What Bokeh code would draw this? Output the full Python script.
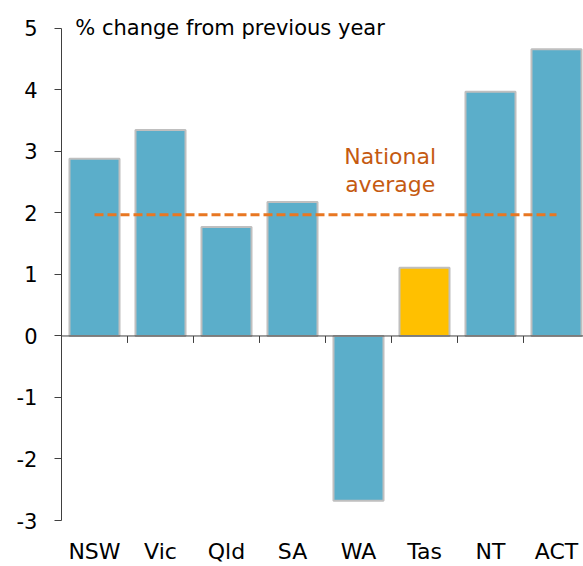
from bokeh.plotting import figure
from bokeh.models import FixedTicker, LinearAxis, Label, Range1d, Span
from bokeh.embed import file_html
from bokeh.resources import INLINE
from bokeh.core.properties import value

# ---- data ----
states = ["NSW", "Vic", "Qld", "SA", "WA", "Tas", "NT", "ACT"]
pct_change = [2.88, 3.35, 1.77, 2.18, -2.68, 1.11, 3.97, 4.66]
national_avg = 1.97
highlight = "Tas"
y_ticks = [-3, -2, -1, 0, 1, 2, 3, 4, 5]
unit_label = "% change from previous year"
avg_label = "National\naverage"

FONT = "DejaVu Sans"
BAR = "#5BAECA"
HIGHLIGHT = "#FFC000"
AXIS = "#404040"

idx = list(range(len(states)))
colors = [HIGHLIGHT if s == highlight else BAR for s in states]

W, H = 583, 566
LEFT, TOP, BOTTOM = 61, 14, 44
PX_PER_CAT = 66.0
PX_PER_UNIT = 61.75
frame_w = W - LEFT
frame_h = H - TOP - BOTTOM
x_end = -0.5 + frame_w / PX_PER_CAT
y_end = y_ticks[0] + frame_h / PX_PER_UNIT

p = figure(width=W, height=H, output_backend="svg", toolbar_location=None,
           x_range=Range1d(-0.5, x_end), y_range=Range1d(y_ticks[0], y_end),
           min_border_left=LEFT, min_border_right=0, min_border_top=TOP,
           min_border_bottom=BOTTOM, x_axis_location=None, y_axis_location=None)
p.outline_line_color = None
p.xgrid.visible = False
p.ygrid.visible = False
p.background_fill_color = "white"
p.border_fill_color = "white"

p.vbar(x=idx, top=pct_change, bottom=0, width=0.758, fill_color=colors,
       line_color="#BFBFBF", line_width=2)

p.line(x=[idx[0], idx[-1]], y=[national_avg, national_avg], line_color="#E87722",
       line_width=3, line_dash="9 4")

# zero line and boundary ticks
p.add_layout(Span(location=0, dimension="width", line_color=AXIS, line_width=1))
tick_len = 7 / PX_PER_UNIT
bounds_x = [i + 0.5 for i in idx[:-1]]
p.segment(x0=bounds_x, y0=[0] * len(bounds_x), x1=bounds_x, y1=[-tick_len] * len(bounds_x),
          line_color=AXIS, line_width=1)

# y axis
yax = LinearAxis(ticker=FixedTicker(ticks=y_ticks, minor_ticks=[]))
yax.bounds = (y_ticks[0], y_ticks[-1])
yax.major_label_overrides = {t: str(t) for t in y_ticks}
yax.axis_line_color = AXIS
yax.major_tick_line_color = AXIS
yax.major_tick_out = 7
yax.major_tick_in = 0
yax.minor_tick_line_color = None
yax.major_label_standoff = 17
yax.major_label_text_font = FONT
yax.major_label_text_font_size = "21px"
yax.major_label_text_color = "#000000"
p.add_layout(yax, "left")

# category labels at bottom
xax = LinearAxis(ticker=FixedTicker(ticks=idx, minor_ticks=[]))
xax.major_label_overrides = {i: s for i, s in zip(idx, states)}
xax.axis_line_color = None
xax.major_tick_line_color = None
xax.minor_tick_line_color = None
xax.major_tick_out = 0
xax.major_tick_in = 0
xax.major_label_standoff = 18
xax.major_label_text_font = FONT
xax.major_label_text_font_size = "22px"
xax.major_label_text_color = "#000000"
p.add_layout(xax, "below")

p.add_layout(Label(x=-0.29, y=y_ticks[-1], text=unit_label, text_font=FONT,
                   text_font_size="21px", text_color="#000000",
                   text_baseline="middle", text_align="left"))

p.text(x=[4.48], y=[2.69], text=[avg_label], text_font=value(FONT),
       text_font_size="22px", text_color="#C55A11", text_align="center",
       text_baseline="middle", text_line_height=1.15)

open("out.html", "w").write(file_html(p, INLINE))
